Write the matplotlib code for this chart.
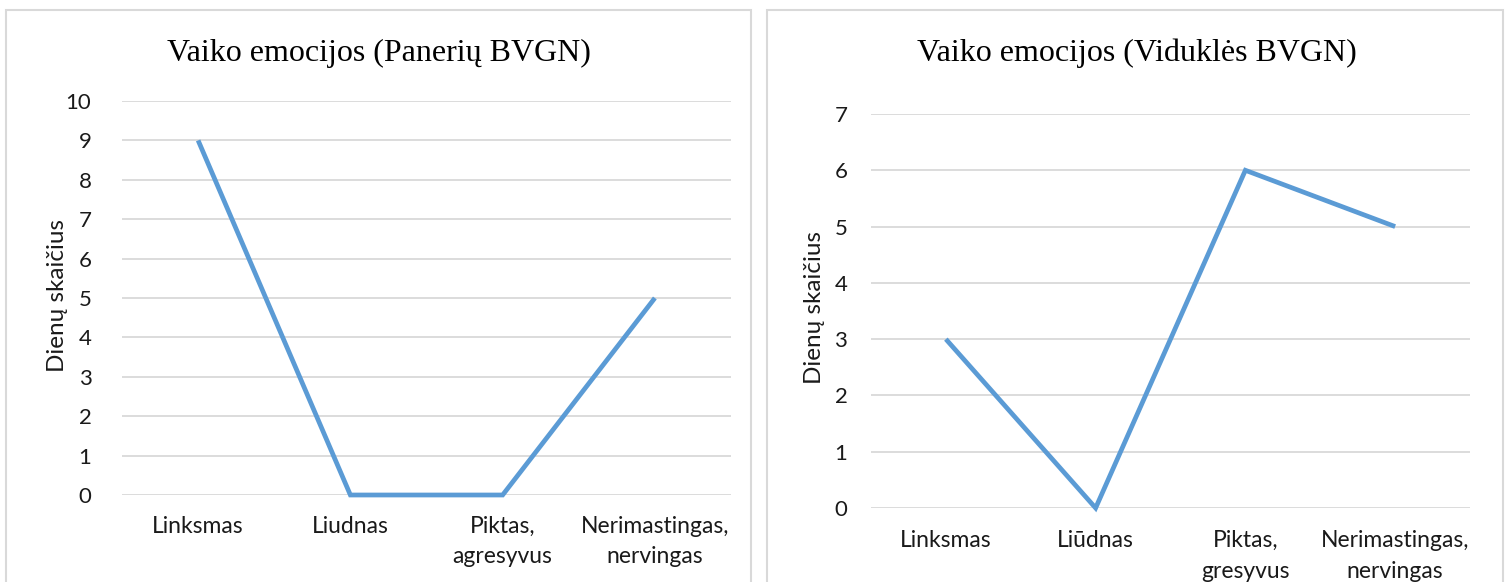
import matplotlib
matplotlib.use("Agg")
import matplotlib.pyplot as plt
from matplotlib.patches import Rectangle

W, H = 1507, 582

left_title = "Vaiko emocijos (Panerių BVGN)"
left_cats = ["Linksmas", "Liudnas", "Piktas,\nagresyvus", "Nerimastingas,\nnervingas"]
left_vals = [9, 0, 0, 5]

right_title = "Vaiko emocijos (Viduklės BVGN)"
right_cats = ["Linksmas", "Liūdnas", "Piktas,\ngresyvus", "Nerimastingas,\nnervingas"]
right_vals = [3, 0, 6, 5]

ylabel = "Dienų skaičius"
line_color = "#5B9BD5"
grid_color = "#D9D9D9"
text_color = "#1a1a1a"
sans = ["Lato", "DejaVu Sans"]
serif = ["Liberation Serif", "DejaVu Serif"]

fig = plt.figure(figsize=(W / 100, H / 100), dpi=100)


def px_axes(x0, x1, ytop, ybot):
    return fig.add_axes([x0 / W, 1 - ybot / H, (x1 - x0) / W, (ybot - ytop) / H])


def panel_border(x0, x1, ytop):
    r = Rectangle((x0 / W, 1 - (H + 10) / H), (x1 - x0) / W, (H + 10 - ytop) / H,
                  transform=fig.transFigure, fill=False, edgecolor=grid_color,
                  linewidth=1.5, zorder=0)
    fig.patches.append(r)


def draw(ax, cats, vals, ymax, ypad, xpad, title, title_x, ylab_x, ylab_y):
    xs = range(len(cats))
    ax.plot(xs, vals, color=line_color, linewidth=3.4, solid_joinstyle="miter",
            solid_capstyle="butt", zorder=3, clip_on=False)
    ax.set_xlim(-0.5, len(cats) - 0.5)
    ax.set_ylim(0, ymax)
    ax.set_yticks(range(ymax + 1))
    ax.set_xticks(list(xs))
    ax.set_xticklabels(cats, fontsize=16.5, family=sans, linespacing=1.55)
    for lab in ax.get_yticklabels():
        lab.set_family(sans)
        lab.set_fontsize(16)
    ax.tick_params(axis="both", length=0, colors=text_color)
    ax.tick_params(axis="y", pad=ypad)
    ax.tick_params(axis="x", pad=xpad)
    ax.grid(axis="y", color=grid_color, linewidth=1.3)
    ax.set_axisbelow(True)
    for s in ax.spines.values():
        s.set_visible(False)
    fig.text(title_x / W, 1 - 53 / H, title, ha="center", va="center",
             fontsize=23, family=serif, color="black")
    fig.text(ylab_x / W, 1 - ylab_y / H, ylabel, ha="center", va="center",
             rotation=90, fontsize=17.5, family=sans, color=text_color)
    return ax


ax1 = px_axes(122, 731, 101, 495)
draw(ax1, left_cats, left_vals, 10, 22, 15, left_title, 379, 58, 296)

ax2 = px_axes(871, 1470, 114, 508)
draw(ax2, right_cats, right_vals, 7, 17, 16, right_title, 1137, 815, 308)

panel_border(6, 751, 10)
panel_border(767, 1503, 10)

fig.savefig("out.png", dpi=100, facecolor="white")
